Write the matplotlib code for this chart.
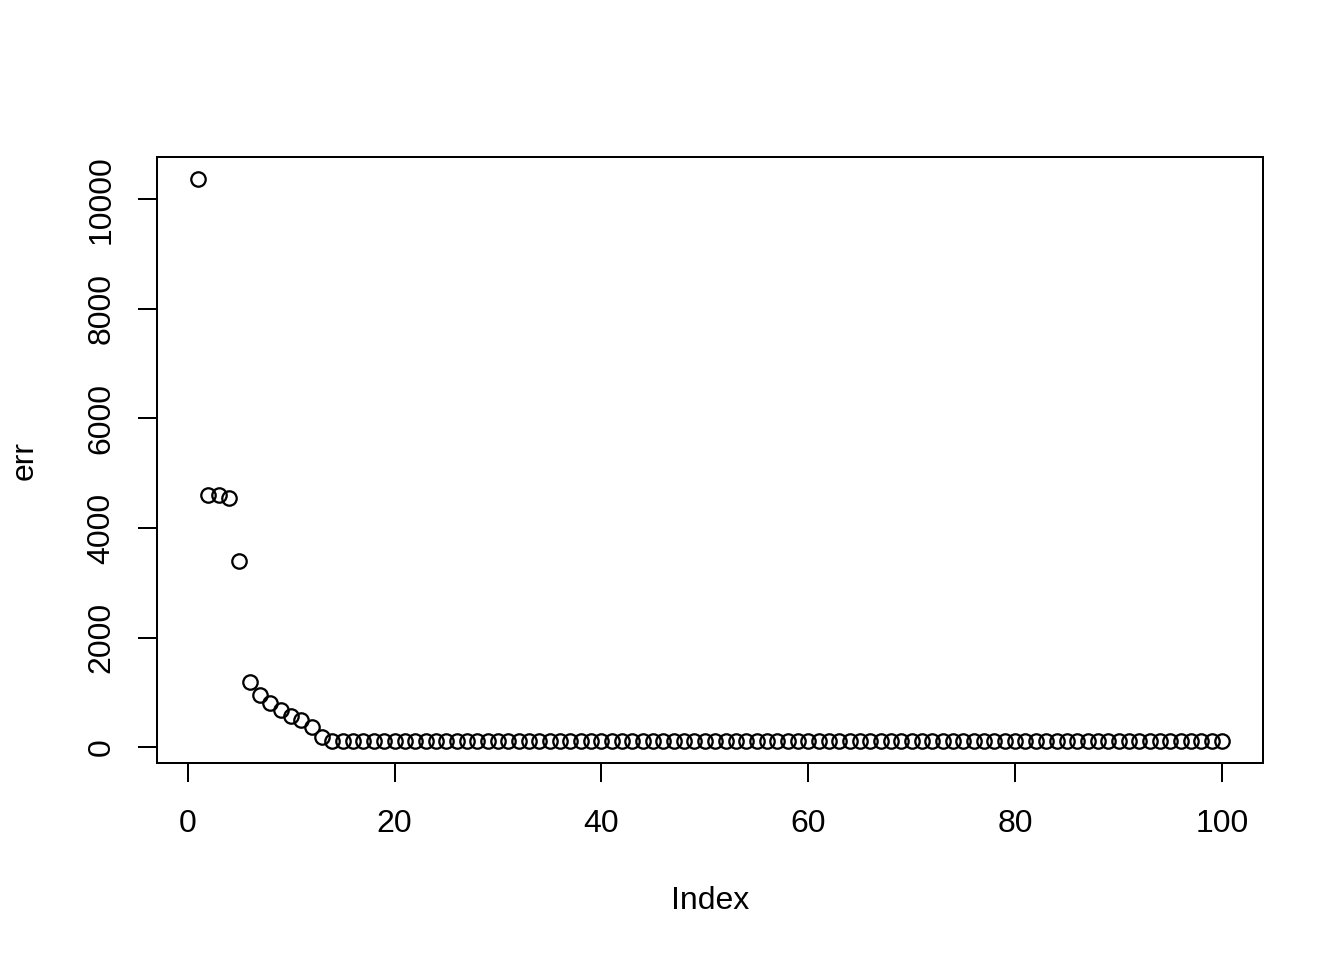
import matplotlib
matplotlib.use("Agg")
import matplotlib.pyplot as plt

plt.rcParams["font.family"] = ["Liberation Sans", "DejaVu Sans"]

# values, index 1..100
err = [10360, 4608, 4595, 4542, 3402, 1189, 955, 806, 677, 576,
       504, 381, 190, 126, 125, 125, 125, 125, 125, 125,
       125, 125, 125, 125, 125, 125, 125, 125, 125, 125,
       125, 125, 125, 125, 125, 125, 125, 125, 125, 125,
       125, 125, 125, 125, 125, 125, 125, 125, 125, 125,
       125, 125, 125, 125, 125, 125, 125, 125, 125, 125,
       125, 125, 125, 125, 125, 125, 125, 125, 125, 125,
       125, 125, 125, 125, 125, 125, 125, 125, 125, 125,
       125, 125, 125, 125, 125, 125, 125, 125, 125, 125,
       125, 125, 125, 125, 125, 125, 125, 125, 125, 125]
index = list(range(1, len(err) + 1))

xticks = [0, 20, 40, 60, 80, 100]
yticks = [0, 2000, 4000, 6000, 8000, 10000]

fig = plt.figure(figsize=(7, 5), dpi=192)
ax = fig.add_axes([157/1344, 197/960, 1106/1344, 606/960])

ax.plot(index, err, linestyle="none", marker="o", markersize=5.4,
        markerfacecolor="none", markeredgecolor="black", markeredgewidth=0.85)

# R style 4% padding
xr = max(index) - min(index)
yr = max(err) - min(err)
ax.set_xlim(min(index) - 0.04*xr, max(index) + 0.04*xr)
ax.set_ylim(min(err) - 0.04*yr, max(err) + 0.04*yr)

ax.set_xticks(xticks)
ax.set_yticks(yticks)
ax.set_yticklabels([str(t) for t in yticks], rotation=90, va="center")
ax.tick_params(axis="both", length=7.1, width=0.75, labelsize=12, direction="out")
ax.tick_params(axis="x", pad=10)
ax.tick_params(axis="y", pad=8)
for s in ax.spines.values():
    s.set_linewidth(0.75)

ax.set_xlabel("Index", fontsize=12)
ax.set_ylabel("err", fontsize=12)
ax.xaxis.set_label_coords(0.5, (763-901)/606)
ax.xaxis.label.set_va("center")
ax.yaxis.set_label_coords((25-157)/1106, 0.5)
ax.yaxis.label.set_va("center")

fig.savefig("out.png", dpi=192)
